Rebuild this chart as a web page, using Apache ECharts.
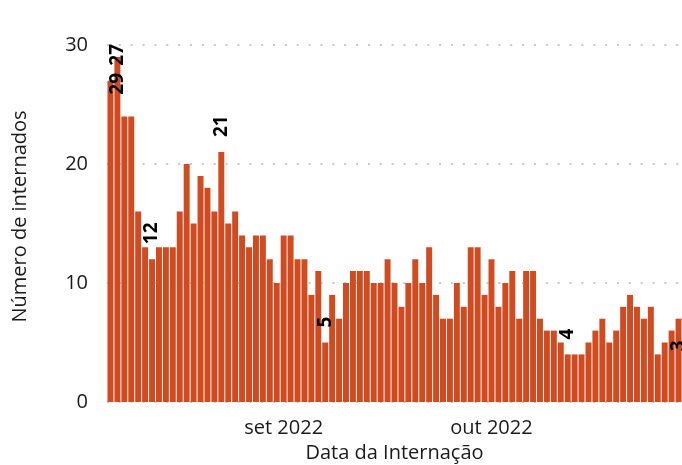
<!DOCTYPE html>
<html>
<head>
<meta charset="utf-8">
<script src="https://cdn.jsdelivr.net/npm/echarts@6/dist/echarts.min.js"></script>
<style>
html,body{margin:0;padding:0;background:#fff;}
#chart{width:682px;height:465px;}
</style>
</head>
<body>
<div id="chart"></div>
<script>
// Categories: admission dates (daily)
const dates = [
  '2022-08-07','2022-08-08','2022-08-09','2022-08-10','2022-08-11','2022-08-12','2022-08-13','2022-08-14','2022-08-15','2022-08-16',
  '2022-08-17','2022-08-18','2022-08-19','2022-08-20','2022-08-21','2022-08-22','2022-08-23','2022-08-24','2022-08-25','2022-08-26',
  '2022-08-27','2022-08-28','2022-08-29','2022-08-30','2022-08-31','2022-09-01','2022-09-02','2022-09-03','2022-09-04','2022-09-05',
  '2022-09-06','2022-09-07','2022-09-08','2022-09-09','2022-09-10','2022-09-11','2022-09-12','2022-09-13','2022-09-14','2022-09-15',
  '2022-09-16','2022-09-17','2022-09-18','2022-09-19','2022-09-20','2022-09-21','2022-09-22','2022-09-23','2022-09-24','2022-09-25',
  '2022-09-26','2022-09-27','2022-09-28','2022-09-29','2022-09-30','2022-10-01','2022-10-02','2022-10-03','2022-10-04','2022-10-05',
  '2022-10-06','2022-10-07','2022-10-08','2022-10-09','2022-10-10','2022-10-11','2022-10-12','2022-10-13','2022-10-14','2022-10-15',
  '2022-10-16','2022-10-17','2022-10-18','2022-10-19','2022-10-20','2022-10-21','2022-10-22','2022-10-23','2022-10-24','2022-10-25',
  '2022-10-26','2022-10-27','2022-10-28'
];

// Series values: number of admissions per day
const internados = [
  27,29,24,24,16,13,12,13,13,13,
  16,20,15,19,18,16,21,15,16,14,
  13,14,14,12,10,14,14,12,12,9,
  11,5,9,7,10,11,11,11,10,10,
  12,10,8,10,12,10,13,9,7,7,
  10,8,13,13,9,12,8,10,11,7,
  11,11,7,6,6,5,4,4,4,5,
  6,7,5,6,8,9,8,7,8,4,
  5,6,7
];

// Annotated values (labels drawn above bars)
const labelDates  = ['2022-08-08','2022-08-13','2022-08-23','2022-09-07','2022-10-12','2022-10-28'];
const labelValues = [27, 12, 21, 5, 4, 3];
// Annotated value drawn inside the top of its bar
const insideLabelDates  = ['2022-08-08'];
const insideLabelValues = [29];

// Axis tick labels
const monthTickDates  = ['2022-09-01','2022-10-01'];
const monthTickLabels = ['set 2022','out 2022'];
const yTicks = [0, 10, 20, 30];

const FONT = '"Open Sans", sans-serif';
const TXT = '#1a1a1a';
const BAR = '#D24B20';

function alignTo(ds, vs) {
  return dates.map(d => { const i = ds.indexOf(d); return i >= 0 ? vs[i] : '-'; });
}

const chart = echarts.init(document.getElementById('chart'), null, {renderer: 'canvas'});
chart.setOption({
  animation: false,
  backgroundColor: '#fff',
  grid: {left: 107, right: 0, top: 45, bottom: 63, containLabel: false, outerBoundsMode: 'none'},
  xAxis: {
    type: 'category',
    data: dates,
    name: 'Data da Internação',
    nameLocation: 'middle',
    nameGap: 39,
    nameTextStyle: {fontFamily: FONT, fontSize: 20, color: TXT},
    axisLine: {show: false},
    axisTick: {show: false},
    axisLabel: {
      interval: (idx, val) => monthTickDates.indexOf(val) >= 0,
      formatter: val => { const i = monthTickDates.indexOf(val); return i >= 0 ? monthTickLabels[i] : ''; },
      fontFamily: FONT, fontSize: 20, color: TXT, margin: 16
    },
    splitLine: {show: false}
  },
  yAxis: {
    type: 'value',
    min: yTicks[0], max: yTicks[yTicks.length - 1], interval: 10,
    name: 'Número de internados',
    nameLocation: 'middle',
    nameGap: 77,
    nameTextStyle: {fontFamily: FONT, fontSize: 20, color: TXT, padding: [0, 0, 0, 14]},
    axisLine: {show: false},
    axisTick: {show: false},
    axisLabel: {fontFamily: FONT, fontSize: 20, color: TXT, margin: 19},
    splitLine: {show: true, lineStyle: {color: '#c8c8c8', width: 2, type: [2, 9.86]}}
  },
  series: [
    {
      name: 'internados', type: 'bar', data: internados,
      barCategoryGap: '14%', barGap: '-100%',
      itemStyle: {color: BAR}, silent: true
    },
    {
      name: 'rótulos', type: 'bar', data: alignTo(labelDates, labelValues),
      barCategoryGap: '14%', barGap: '-100%',
      itemStyle: {color: 'rgba(0,0,0,0)'}, silent: true,
      label: {
        show: true, position: 'top', distance: 15, rotate: 90,
        align: 'left', verticalAlign: 'middle',
        fontFamily: FONT, fontSize: 19, fontWeight: 'bold', color: '#000'
      }
    },
    {
      name: 'rótulos internos', type: 'bar', data: alignTo(insideLabelDates, insideLabelValues),
      barCategoryGap: '14%', barGap: '-100%',
      itemStyle: {color: 'rgba(0,0,0,0)'}, silent: true,
      label: {
        show: true, position: 'insideTop', distance: 16, rotate: 90,
        align: 'right', verticalAlign: 'middle',
        fontFamily: FONT, fontSize: 19, fontWeight: 'bold', color: '#000'
      }
    }
  ]
});
</script>
</body>
</html>
